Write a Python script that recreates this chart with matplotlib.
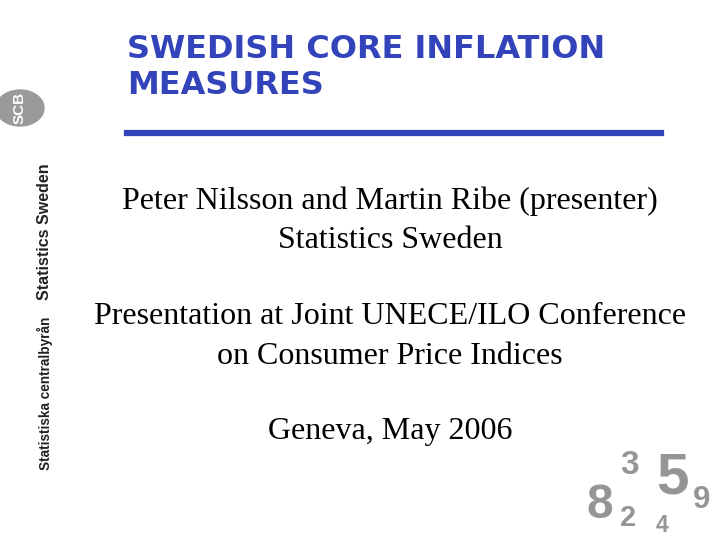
import matplotlib
matplotlib.use("Agg")
import matplotlib.pyplot as plt
from matplotlib.patches import Circle

W, H = 720, 540
title_lines = ["SWEDISH CORE INFLATION", "MEASURES"]
body_lines = [
    ("Peter Nilsson and Martin Ribe (presenter)", 201),
    ("Statistics Sweden", 240),
    ("Presentation at Joint UNECE/ILO Conference", 317),
    ("on Consumer Price Indices", 356),
    ("Geneva, May 2006", 432),
]
side_texts = [("Statistics Sweden", 45, 232, 11.5), ("Statistiska centralbyrån", 45, 393, 9.8)]
deco_digits = [("8", 600, 505, 46), ("3", 630, 465, 32), ("2", 628, 518, 28),
               ("5", 672, 478, 56), ("4", 662, 525, 22), ("9", 702, 500, 30)]

fig = plt.figure(figsize=(7.2, 5.4), dpi=100)
fig.patch.set_facecolor("white")

def fy(y):
    return 1 - y / H

blue = "#3344bb"
for i, t in enumerate(title_lines):
    fig.text(127 / W, fy(49 + 36 * i), t, color=blue, fontsize=23,
             fontweight="bold", family="DejaVu Sans", va="center", ha="left")
fig.add_artist(plt.Line2D([127 / W, 661 / W], [fy(133), fy(133)], color=blue, lw=4.5))

for t, y in body_lines:
    fig.text(390 / W, fy(y), t, fontsize=23, family="Liberation Serif",
             ha="center", va="center", color="black")

# left sidebar
fig.add_artist(Circle((20 / W, fy(108)), 24 / W, transform=fig.transFigure,
                      color="#9a9a9a"))
fig.text(20 / W, fy(108), "SCB", color="white", fontsize=11, fontweight="bold",
         rotation=90, ha="center", va="center", family="Liberation Sans")
for t, x, y, s in side_texts:
    fig.text(x / W, fy(y), t, rotation=90, fontsize=s, fontweight="bold",
             family="Liberation Sans", ha="center", va="center", color="#222222")

for d, x, y, s in deco_digits:
    fig.text(x / W, fy(y), d, fontsize=s * 0.75, fontweight="bold",
             family="Liberation Sans", color="#8a8a8a", ha="center", va="center",
             alpha=0.9)

fig.savefig("out.png", dpi=100)
